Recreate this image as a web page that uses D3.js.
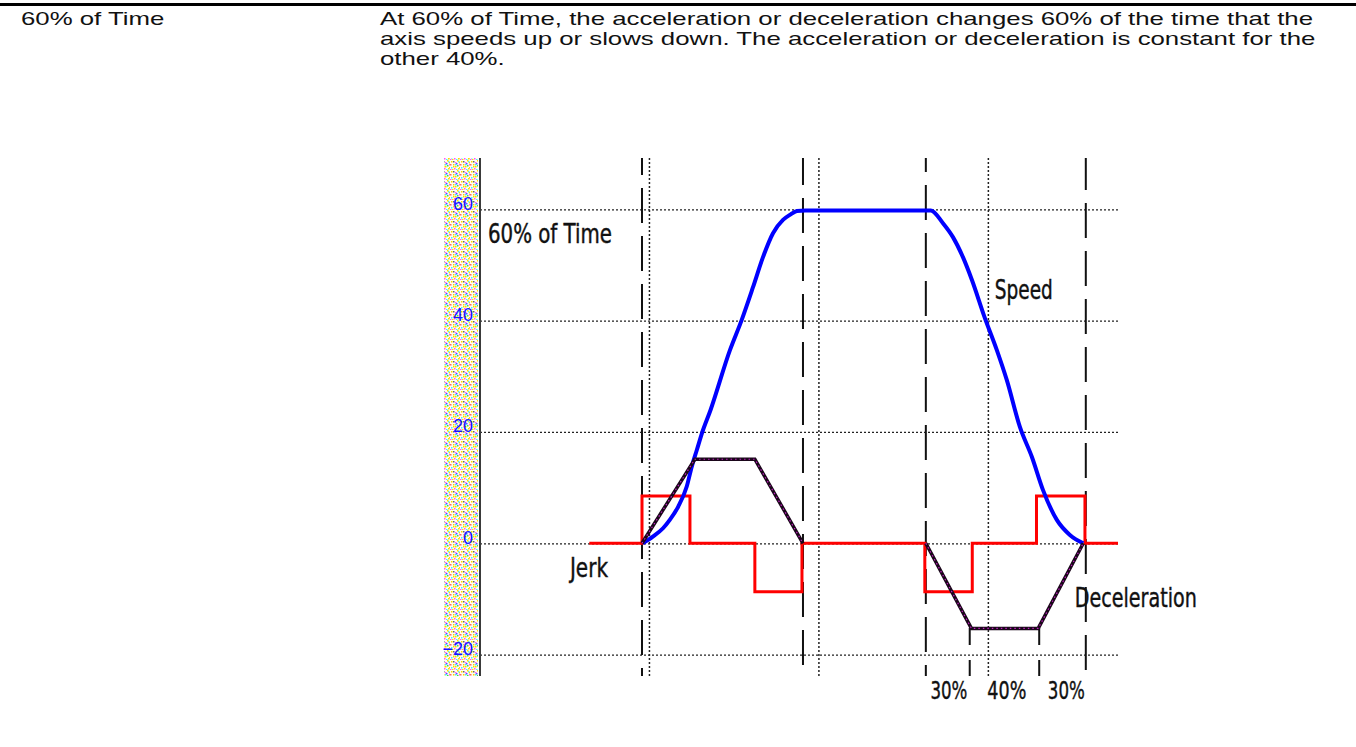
<!DOCTYPE html>
<html>
<head>
<meta charset="utf-8">
<script src="https://cdn.jsdelivr.net/npm/d3@7"></script>
<style>
  html, body { margin: 0; padding: 0; background: #fff; }
  svg { display: block; }
</style>
</head>
<body>
<div id="canvas-svg"></div>
<script>
// table row text
var rowLabel = "60% of Time";
var rowText = [
  "At 60% of Time, the acceleration or deceleration changes 60% of the time that the",
  "axis speeds up or slows down. The acceleration or deceleration is constant for the",
  "other 40%."
];

// speed axis and time grid
var speedTicks = [-20, 0, 20, 40, 60];
var timeTicks = [10, 20, 30];
var timeEnd = 37.65;

// phase boundaries (long dashes) and decel split marks (short dashes)
var phaseLines = [9.56, 19.06, 26.31, 35.75];
var splitLines = [28.9, 33.0];

// percent labels under the decel phase
var pctLabels = ["30%", "40%", "30%"];
var pctTimes = [27.67, 31.09, 34.6];

// jerk, step value from each time on
var jerkTime = [6.45, 9.56, 12.39, 16.22, 19.0, 26.25, 29.05, 32.84, 35.7, 37.65];
var jerkValue = [0, 8.5, 0, -8.7, 0, -8.7, 0, 8.5, 0, 0];

// acceleration and deceleration
var accelTime = [9.56, 12.68, 16.22, 19.06];
var accelValue = [0, 15.1, 15.1, 0];
var decelTime = [26.31, 29.0, 32.94, 35.6];
var decelValue = [0, -15.3, -15.3, 0];

// speed
var speedTime = [9.6, 10.2, 10.8, 11.2, 11.7, 12.2, 12.5, 12.8, 13.1, 13.6, 14.75, 15.44, 16.11, 16.7,
  17.29, 17.88, 18.29, 18.7, 19.2, 26.6, 27.32, 27.91, 28.5, 29.03, 29.79, 30.5, 31.09, 31.86,
  32.57, 33.22, 34.04, 34.81, 35.6];
var speedValue = [0, 1.2, 2.7, 4.2, 6.6, 10.2, 13.8, 16.8, 19.8, 23.9, 34.7, 40.1, 46.0, 51.4,
  55.7, 58.1, 59.0, 59.7, 59.8, 59.8, 57.5, 55.0, 51.4, 47.3, 40.5, 34.7, 29.3, 20.9,
  15.5, 9.6, 4.2, 1.5, 0];

var WIDTH = 1356, HEIGHT = 747;
var TOP = 158, BOTTOM = 676;
var chartFont = "'Liberation Sans Narrow', 'DejaVu Sans Condensed', 'Arial Narrow', sans-serif";
var bodyFont = "'Liberation Sans', Arial, sans-serif";

var svg = d3.select("#canvas-svg").append("svg")
    .attr("width", WIDTH)
    .attr("height", HEIGHT);

var x = d3.scaleLinear().domain([0, timeEnd]).range([480, 1118]);
var y = d3.scaleLinear().domain([-20, 60]).range([654.6, 209.3]);

// top rule + row text
svg.append("rect").attr("x", 0).attr("y", 3).attr("width", WIDTH).attr("height", 3).attr("fill", "#000");

var head = svg.append("g")
    .style("font-family", bodyFont)
    .style("font-size", "19px")
    .attr("fill", "#111");

// the source text is rendered wide: first line runs 380 -> 1313
var texts = [head.append("text").attr("x", 21).attr("y", 25).text(rowLabel)];
rowText.forEach(function(d, i) {
  texts.push(head.append("text").attr("x", 380).attr("y", 25 + i * 20).text(d));
});
var stretch = 933 / texts[1].node().getComputedTextLength();
texts.forEach(function(t) {
  t.attr("textLength", t.node().getComputedTextLength() * stretch)
   .attr("lengthAdjust", "spacingAndGlyphs");
});

// stipple band left of the axis
var stippleDots = [[1,1,"#ffd800"],[5,2,"#ff55ff"],[8,1,"#44eeff"],[3,4,"#ffd800"],[7,5,"#44dd44"],
  [1,7,"#44eeff"],[4,8,"#ff55ff"],[8,8,"#ffd800"],[6,3,"#5555ff"],[2,9,"#ffd800"],[9,4,"#ff55ff"],
  [5,6,"#ffd800"],[3,1,"#666"],[0,4,"#ff6666"],[6,9,"#44eeff"],[9,7,"#ffd800"],[3,6,"#ffd800"],
  [7,0,"#ffd800"],[0,9,"#ff55ff"],[9,2,"#ffd800"],[5,4,"#44eeff"]];
var pat = svg.append("defs").append("pattern")
    .attr("id", "stipple")
    .attr("patternUnits", "userSpaceOnUse")
    .attr("width", 10).attr("height", 10);
pat.append("rect").attr("width", 10).attr("height", 10).attr("fill", "#fffef0");
pat.selectAll("rect.dot")
    .data(stippleDots)
    .enter().append("rect")
    .attr("class", "dot")
    .attr("x", function(d) { return d[0]; })
    .attr("y", function(d) { return d[1]; })
    .attr("width", 1.5).attr("height", 1.5)
    .attr("fill", function(d) { return d[2]; });
svg.append("rect")
    .attr("x", 444).attr("y", TOP)
    .attr("width", 34).attr("height", BOTTOM - TOP)
    .attr("fill", "url(#stipple)");

// horizontal grid
svg.append("g")
    .attr("transform", "translate(480,0)")
    .call(d3.axisRight(y).tickValues(speedTicks).tickSize(x(timeEnd) - 480).tickFormat(""))
    .call(function(g) { g.select(".domain").remove(); })
    .selectAll("line")
    .attr("stroke", "#222")
    .attr("stroke-width", 1.3)
    .attr("stroke-dasharray", "2,2");

// vertical dotted grid
svg.append("g").selectAll("line")
    .data(timeTicks)
    .enter().append("line")
    .attr("x1", function(d) { return x(d); })
    .attr("x2", function(d) { return x(d); })
    .attr("y1", TOP).attr("y2", BOTTOM)
    .attr("stroke", "#222")
    .attr("stroke-width", 1.5)
    .attr("stroke-dasharray", "2,2");

// y labels
var yAxis = svg.append("g")
    .attr("transform", "translate(480,0)")
    .call(d3.axisLeft(y).tickValues(speedTicks).tickSize(0).tickPadding(7));
yAxis.select(".domain").remove();
yAxis.selectAll("text")
    .attr("dy", "0")
    .attr("fill", "#1515ff")
    .style("font-family", bodyFont)
    .style("font-size", "18px");

// axis line
svg.append("line")
    .attr("x1", 480).attr("x2", 480)
    .attr("y1", TOP).attr("y2", BOTTOM)
    .attr("stroke", "#3a3a3a").attr("stroke-width", 2);

// long dashed phase lines
var dashOffsets = [18, 8, 21, 3];
svg.append("g").selectAll("line")
    .data(phaseLines)
    .enter().append("line")
    .attr("x1", function(d) { return x(d); })
    .attr("x2", function(d) { return x(d); })
    .attr("y1", TOP).attr("y2", BOTTOM)
    .attr("stroke", "#111")
    .attr("stroke-width", 2)
    .attr("stroke-dasharray", "35,13")
    .attr("stroke-dashoffset", function(d, i) { return dashOffsets[i]; });

// short split marks
svg.append("g").selectAll("line")
    .data(splitLines)
    .enter().append("line")
    .attr("x1", function(d) { return x(d); })
    .attr("x2", function(d) { return x(d); })
    .attr("y1", 628).attr("y2", BOTTOM)
    .attr("stroke", "#111")
    .attr("stroke-width", 2)
    .attr("stroke-dasharray", "17,15");

// jerk
var jerk = jerkTime.map(function(t, i) { return [t, jerkValue[i]]; });
svg.append("path")
    .datum(jerk)
    .attr("fill", "none")
    .attr("stroke", "#ff0000")
    .attr("stroke-width", 3)
    .attr("d", d3.line().curve(d3.curveStepAfter)
      .x(function(d) { return x(d[0]); })
      .y(function(d) { return y(d[1]); }));

// speed
var speed = speedTime.map(function(t, i) { return [t, speedValue[i]]; });
svg.append("path")
    .datum(speed)
    .attr("fill", "none")
    .attr("stroke", "#0000ff")
    .attr("stroke-width", 4)
    .attr("d", d3.line().curve(d3.curveMonotoneX)
      .x(function(d) { return x(d[0]); })
      .y(function(d) { return y(d[1]); }));

// acceleration / deceleration
var accLine = d3.line()
    .x(function(d) { return x(d[0]); })
    .y(function(d) { return y(d[1]); });
[[accelTime, accelValue], [decelTime, decelValue]].forEach(function(s) {
  var pts = s[0].map(function(t, i) { return [t, s[1][i]]; });
  svg.append("path")
      .datum(pts)
      .attr("fill", "none")
      .attr("stroke", "#1a061a")
      .attr("stroke-width", 3.5)
      .attr("d", accLine);
  svg.append("path")
      .datum(pts)
      .attr("fill", "none")
      .attr("stroke", "#c020c0")
      .attr("stroke-width", 1.2)
      .attr("stroke-dasharray", "1.5,3")
      .attr("d", accLine);
});

// chart annotations
function note(txt, t, v, len) {
  svg.append("text")
      .attr("x", x(t)).attr("y", y(v))
      .attr("textLength", len)
      .attr("lengthAdjust", "spacingAndGlyphs")
      .style("font-family", chartFont)
      .style("font-size", "26px")
      .attr("fill", "#111")
      .attr("stroke", "#111")
      .attr("stroke-width", 0.4)
      .text(txt);
}
note("60% of Time", 0.47, 53.9, 124);
note("Speed", 30.38, 43.9, 58);
note("Jerk", 5.31, -6.05, 38);
note("Deceleration", 35.1, -11.4, 122);

var pctWidths = [37, 39, 37];
svg.append("g").selectAll("text")
    .data(pctLabels)
    .enter().append("text")
    .attr("x", function(d, i) { return x(pctTimes[i]) - pctWidths[i] / 2; })
    .attr("y", 699)
    .attr("textLength", function(d, i) { return pctWidths[i]; })
    .attr("lengthAdjust", "spacingAndGlyphs")
    .style("font-family", chartFont)
    .style("font-size", "25px")
    .attr("fill", "#111")
    .attr("stroke", "#111")
    .attr("stroke-width", 0.4)
    .text(function(d) { return d; });
</script>
</body>
</html>
